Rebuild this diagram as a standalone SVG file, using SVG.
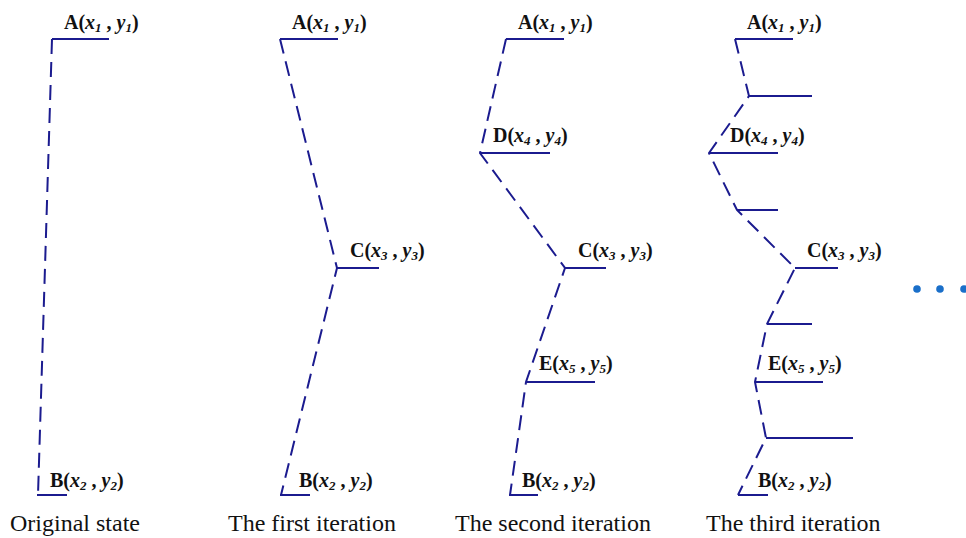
<svg xmlns="http://www.w3.org/2000/svg" width="966" height="538" viewBox="0 0 966 538">
<style>
.lbl{font-family:"Liberation Serif","Times New Roman",serif;font-weight:bold;font-size:20px;fill:#111}
.i{font-style:italic}
.sub{font-size:13px;font-style:italic}
.cap{font-family:"Liberation Serif","Times New Roman",serif;font-size:24px;fill:#111}
.tick{stroke:#1b1b8f;stroke-width:2;fill:none}
.dash{stroke:#1b1b8f;stroke-width:2;fill:none;stroke-dasharray:15 8}
.dot{fill:#1a6fc9}
</style>
<rect width="966" height="538" fill="#fff"/>
<g id="connectors">
<path class="dash" d="M52,39 L38,495"/>
<path class="dash" d="M280,39 L337,268 L281,495"/>
<path class="dash" d="M506,39 L480,153 L565,268 L526,382 L510,495"/>
<path class="dash" d="M735,39 L749,96 L709,153 L737,210 L795,268 L767,324 L755,382 L766,438 L738,495"/>
</g>
<g id="p1-A"><path class="tick" d="M52,39 H109"/><text class="lbl" x="64" y="29">A(<tspan class="i">x</tspan><tspan class="sub" dy="3">1</tspan><tspan dy="-3"> , </tspan><tspan class="i">y</tspan><tspan class="sub" dy="3">1</tspan><tspan dy="-3">)</tspan></text></g>
<g id="p1-B"><path class="tick" d="M37,495 H67"/><text class="lbl" x="50" y="487">B(<tspan class="i">x</tspan><tspan class="sub" dy="3">2</tspan><tspan dy="-3"> , </tspan><tspan class="i">y</tspan><tspan class="sub" dy="3">2</tspan><tspan dy="-3">)</tspan></text></g>
<text class="cap" x="10" y="531">Original state</text>
<g id="p2-A"><path class="tick" d="M280,39 H338"/><text class="lbl" x="292" y="29">A(<tspan class="i">x</tspan><tspan class="sub" dy="3">1</tspan><tspan dy="-3"> , </tspan><tspan class="i">y</tspan><tspan class="sub" dy="3">1</tspan><tspan dy="-3">)</tspan></text></g>
<g id="p2-C"><path class="tick" d="M337,268 H379"/><text class="lbl" x="350" y="257">C(<tspan class="i">x</tspan><tspan class="sub" dy="3">3</tspan><tspan dy="-3"> , </tspan><tspan class="i">y</tspan><tspan class="sub" dy="3">3</tspan><tspan dy="-3">)</tspan></text></g>
<g id="p2-B"><path class="tick" d="M280,495 H310"/><text class="lbl" x="299" y="487">B(<tspan class="i">x</tspan><tspan class="sub" dy="3">2</tspan><tspan dy="-3"> , </tspan><tspan class="i">y</tspan><tspan class="sub" dy="3">2</tspan><tspan dy="-3">)</tspan></text></g>
<text class="cap" x="228" y="531">The first iteration</text>
<g id="p3-A"><path class="tick" d="M506,39 H564"/><text class="lbl" x="518" y="29">A(<tspan class="i">x</tspan><tspan class="sub" dy="3">1</tspan><tspan dy="-3"> , </tspan><tspan class="i">y</tspan><tspan class="sub" dy="3">1</tspan><tspan dy="-3">)</tspan></text></g>
<g id="p3-D"><path class="tick" d="M480,153 H550"/><text class="lbl" x="493" y="142">D(<tspan class="i">x</tspan><tspan class="sub" dy="3">4</tspan><tspan dy="-3"> , </tspan><tspan class="i">y</tspan><tspan class="sub" dy="3">4</tspan><tspan dy="-3">)</tspan></text></g>
<g id="p3-C"><path class="tick" d="M565,268 H606"/><text class="lbl" x="578" y="257">C(<tspan class="i">x</tspan><tspan class="sub" dy="3">3</tspan><tspan dy="-3"> , </tspan><tspan class="i">y</tspan><tspan class="sub" dy="3">3</tspan><tspan dy="-3">)</tspan></text></g>
<g id="p3-E"><path class="tick" d="M526,382 H595"/><text class="lbl" x="539" y="370">E(<tspan class="i">x</tspan><tspan class="sub" dy="3">5</tspan><tspan dy="-3"> , </tspan><tspan class="i">y</tspan><tspan class="sub" dy="3">5</tspan><tspan dy="-3">)</tspan></text></g>
<g id="p3-B"><path class="tick" d="M509,495 H538"/><text class="lbl" x="522" y="487">B(<tspan class="i">x</tspan><tspan class="sub" dy="3">2</tspan><tspan dy="-3"> , </tspan><tspan class="i">y</tspan><tspan class="sub" dy="3">2</tspan><tspan dy="-3">)</tspan></text></g>
<text class="cap" x="455" y="531">The second iteration</text>
<g id="p4-A"><path class="tick" d="M735,39 H793"/><text class="lbl" x="747" y="29">A(<tspan class="i">x</tspan><tspan class="sub" dy="3">1</tspan><tspan dy="-3"> , </tspan><tspan class="i">y</tspan><tspan class="sub" dy="3">1</tspan><tspan dy="-3">)</tspan></text></g>
<g id="p4-P1"><path class="tick" d="M749,96 H812"/></g>
<g id="p4-D"><path class="tick" d="M709,153 H778"/><text class="lbl" x="730" y="142">D(<tspan class="i">x</tspan><tspan class="sub" dy="3">4</tspan><tspan dy="-3"> , </tspan><tspan class="i">y</tspan><tspan class="sub" dy="3">4</tspan><tspan dy="-3">)</tspan></text></g>
<g id="p4-P2"><path class="tick" d="M737,210 H778"/></g>
<g id="p4-C"><path class="tick" d="M795,268 H838"/><text class="lbl" x="807" y="257">C(<tspan class="i">x</tspan><tspan class="sub" dy="3">3</tspan><tspan dy="-3"> , </tspan><tspan class="i">y</tspan><tspan class="sub" dy="3">3</tspan><tspan dy="-3">)</tspan></text></g>
<g id="p4-P3"><path class="tick" d="M767,324 H812"/></g>
<g id="p4-E"><path class="tick" d="M755,382 H823"/><text class="lbl" x="768" y="370">E(<tspan class="i">x</tspan><tspan class="sub" dy="3">5</tspan><tspan dy="-3"> , </tspan><tspan class="i">y</tspan><tspan class="sub" dy="3">5</tspan><tspan dy="-3">)</tspan></text></g>
<g id="p4-P4"><path class="tick" d="M766,438 H853"/></g>
<g id="p4-B"><path class="tick" d="M738,495 H768"/><text class="lbl" x="758" y="487">B(<tspan class="i">x</tspan><tspan class="sub" dy="3">2</tspan><tspan dy="-3"> , </tspan><tspan class="i">y</tspan><tspan class="sub" dy="3">2</tspan><tspan dy="-3">)</tspan></text></g>
<text class="cap" x="706" y="531">The third iteration</text>
<g id="ellipsis">
<circle class="dot" cx="917" cy="289" r="3.8"/>
<circle class="dot" cx="940" cy="289" r="3.8"/>
<circle class="dot" cx="964" cy="289" r="3.8"/>
</g>
</svg>
